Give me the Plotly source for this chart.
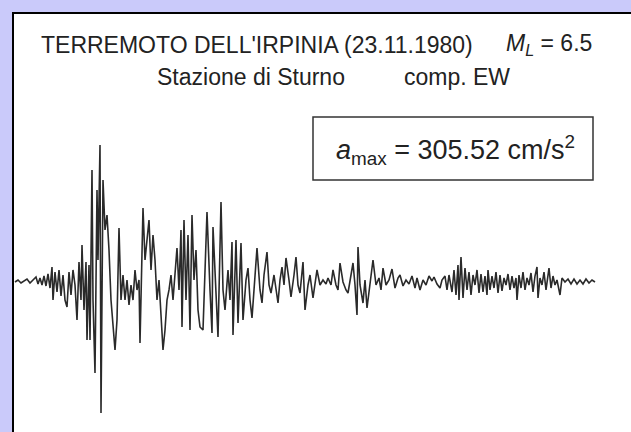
import plotly.graph_objects as go

# ---------------- data ----------------
title_main = "TERREMOTO DELL'IRPINIA (23.11.1980)"
title_mag = "<i>M</i><sub><i>L</i></sub> = 6.5"
station = "Stazione di Sturno"
component = "comp. EW"
amax_label = "<i>a</i><sub>max</sub> = 305.52 cm/s<sup>2</sup>"

# time (s) and acceleration (cm/s^2) of the EW accelerogram
time_s = [
    0.00, 0.15, 0.30, 0.45, 0.60, 0.75, 0.90, 1.05, 1.15, 1.25, 1.35, 1.45, 1.55, 1.65, 1.75,
    1.85, 1.90, 2.00, 2.10, 2.20, 2.30, 2.40, 2.50, 2.60, 2.70, 2.80, 2.90, 3.00, 3.10, 3.20,
    3.30, 3.35, 3.45, 3.55, 3.60, 3.70, 3.75, 3.85, 3.90, 4.00, 4.10, 4.15, 4.25, 4.30, 4.40,
    4.50, 4.60, 4.70, 4.80, 4.90, 5.00, 5.10, 5.20, 5.30, 5.40, 5.50, 5.60, 5.70, 5.80, 5.90,
    6.00, 6.10, 6.20, 6.25, 6.35, 6.40, 6.50, 6.60, 6.70, 6.80, 6.90, 7.00, 7.10, 7.20, 7.30,
    7.40, 7.50, 7.60, 7.70, 7.80, 7.90, 8.00, 8.10, 8.20, 8.30, 8.35, 8.45, 8.55, 8.65, 8.75,
    8.85, 8.95, 9.05, 9.15, 9.25, 9.40, 9.50, 9.60, 9.75, 9.85, 9.90, 10.05, 10.15, 10.30, 10.40,
    10.50, 10.65, 10.75, 10.85, 10.90, 11.05, 11.15, 11.30, 11.40, 11.55, 11.65, 11.75, 11.85, 12.00, 12.10,
    12.25, 12.35, 12.45, 12.60, 12.70, 12.80, 12.95, 13.05, 13.15, 13.25, 13.35, 13.45, 13.55, 13.70, 13.80,
    13.95, 14.05, 14.15, 14.25, 14.40, 14.50, 14.65, 14.75, 14.90, 15.00, 15.10, 15.25, 15.40, 15.55, 15.65,
    15.80, 15.90, 16.05, 16.15, 16.25, 16.40, 16.55, 16.65, 16.80, 16.90, 17.00, 17.10, 17.15, 17.25, 17.40,
    17.50, 17.60, 17.75, 17.90, 18.05, 18.20, 18.30, 18.40, 18.55, 18.70, 18.85, 19.00, 19.15, 19.25, 19.40,
    19.55, 19.70, 19.85, 20.00, 20.10, 20.25, 20.40, 20.55, 20.70, 20.85, 20.95, 21.10, 21.25, 21.35, 21.50,
    21.60, 21.70, 21.85, 21.95, 22.05, 22.15, 22.20, 22.30, 22.40, 22.50, 22.60, 22.70, 22.80, 22.90, 23.00,
    23.10, 23.20, 23.30, 23.40, 23.50, 23.60, 23.65, 23.75, 23.85, 23.95, 24.05, 24.15, 24.25, 24.35, 24.45,
    24.55, 24.65, 24.75, 24.85, 24.95, 25.05, 25.10, 25.20, 25.30, 25.40, 25.50, 25.60, 25.70, 25.80, 25.90,
    26.00, 26.10, 26.15, 26.25, 26.35, 26.45, 26.55, 26.70, 26.80, 26.90, 27.00, 27.10, 27.25, 27.35, 27.50,
    27.65, 27.80, 27.95, 28.10, 28.25, 28.40, 28.55, 28.70, 28.85, 29.00,
]
accel_cms2 = [
    -2.2, 2.2, -4.5, 0.0, 4.5, -4.5, 2.2, 9.0, -6.8, 6.8, -9.0, 11.2, -11.2, 15.8, -15.8,
    31.5, -42.8, 20.2, -24.8, 24.8, -33.8, 13.5, -42.8, -58.5, 20.2, -31.5, 24.8, -9.0, -87.8, 42.8,
    -42.8, 81.0, -65.2, 42.8, -132.8, 36.0, -132.8, 249.8, -42.8, -207.0, 204.8, 47.2, 306.0, -297.0, 227.2,
    114.8, 148.5, 69.8, -42.8, -110.2, -155.2, -87.8, 119.2, -42.8, 13.5, -42.8, 2.2, -54.0, -9.0, -42.8,
    24.8, -20.2, 2.2, -139.5, 69.8, 164.2, 47.2, 92.2, 137.2, 24.8, 103.5, 47.2, -42.8, 2.2, -87.8,
    -155.2, -110.2, -42.8, -20.2, 13.5, -42.8, 24.8, 74.2, -20.2, 114.8, -103.5, 137.2, -42.8, 103.5, -110.2,
    148.5, 2.2, 69.8, -65.2, -103.5, -110.2, 47.2, 155.2, -20.2, -117.0, 121.5, -20.2, -126.0, 177.8, -20.2,
    -65.2, 24.8, -42.8, 87.8, -121.5, 92.2, -94.5, 85.5, -87.8, 2.2, 29.2, -42.8, -83.2, 2.2, 74.2,
    -20.2, -49.5, 13.5, 65.2, -9.0, -27.0, 13.5, -20.2, -49.5, 2.2, 31.5, -9.0, 51.8, 2.2, -36.0,
    13.5, 54.0, -9.0, -27.0, 42.8, -65.2, -9.0, 13.5, -38.2, -9.0, 24.8, -9.0, 2.2, -6.8, 6.8,
    -9.0, 24.8, -9.0, -20.2, 40.5, -2.2, -20.2, -27.0, 13.5, 40.5, -9.0, -76.5, 76.5, -9.0, -49.5,
    2.2, -60.8, -9.0, 47.2, -9.0, 6.8, -20.2, 29.2, -9.0, 2.2, 27.0, -15.8, 6.8, 13.5, -11.2,
    2.2, -6.8, 11.2, -15.8, 6.8, -20.2, 2.2, -9.0, 11.2, 0.0, 9.0, -6.8, -15.8, 2.2, 11.2,
    -20.2, 13.5, -24.8, 24.8, -31.5, 36.0, -42.8, 54.0, -38.2, 29.2, -20.2, 20.2, -31.5, 13.5, -9.0,
    24.8, -27.0, 15.8, -24.8, 11.2, -31.5, 24.8, -20.2, 11.2, -15.8, 20.2, -27.0, 13.5, -22.5, 6.8,
    -9.0, 15.8, -20.2, 11.2, -15.8, 6.8, -42.8, 13.5, -15.8, 20.2, -20.2, 6.8, -9.0, 18.0, -24.8,
    11.2, 31.5, -38.2, 6.8, -9.0, 20.2, -20.2, 29.2, -15.8, 11.2, -9.0, 2.2, -31.5, 6.8, -2.2,
    4.5, -6.8, 4.5, -6.8, 2.2, -6.8, 4.5, -4.5, 2.2, -2.2,
]

# ---------------- figure ----------------
W, H = 631, 432
LAV = "#cacafa"
INK = "#222222"
FONT = "Liberation Sans, Arial, Helvetica, sans-serif"


def px(x):
    return x / W


def py(y):
    return 1 - y / H


fig = go.Figure()
fig.add_trace(go.Scatter(
    x=time_s, y=accel_cms2, mode="lines",
    line=dict(color="#2a2a2a", width=1.6),
    hoverinfo="skip", showlegend=False,
))

shapes = [
    # white sheet with black top/left edge
    dict(type="rect", xref="paper", yref="paper", layer="below",
         x0=px(13), x1=px(W + 20), y0=py(H + 20), y1=py(13),
         fillcolor="white", line=dict(color="black", width=2)),
    # a_max box
    dict(type="rect", xref="paper", yref="paper", layer="above",
         x0=px(313), x1=px(593), y0=py(180), y1=py(117),
         fillcolor="rgba(0,0,0,0)", line=dict(color="#333333", width=1.5)),
]

annotations = [
    dict(text=title_main, x=px(39), y=py(45), xanchor="left", yanchor="middle",
         font=dict(size=23, color=INK, family=FONT)),
    dict(text=title_mag, x=px(594), y=py(45), xanchor="right", yanchor="middle",
         font=dict(size=23, color=INK, family=FONT)),
    dict(text=station, x=px(155), y=py(77), xanchor="left", yanchor="middle",
         font=dict(size=23, color=INK, family=FONT)),
    dict(text=component, x=px(402), y=py(77), xanchor="left", yanchor="middle",
         font=dict(size=23, color=INK, family=FONT)),
    dict(text=amax_label, x=px(455), y=py(150), xanchor="center", yanchor="middle",
         font=dict(size=27, color=INK, family=FONT)),
]
for a in annotations:
    a.update(xref="paper", yref="paper", showarrow=False)

fig.update_layout(
    width=W, height=H,
    margin=dict(l=0, r=0, t=0, b=0, pad=0),
    paper_bgcolor=LAV, plot_bgcolor="rgba(0,0,0,0)",
    xaxis=dict(visible=False, range=[-0.75, 30.8], fixedrange=True),
    yaxis=dict(visible=False, range=[-339.75, 632.25], fixedrange=True),
    shapes=shapes, annotations=annotations,
    showlegend=False,
)

fig.write_html("out.html", config={"displayModeBar": False},
               post_script="document.body.style.margin='0';document.body.style.overflow='hidden';")
